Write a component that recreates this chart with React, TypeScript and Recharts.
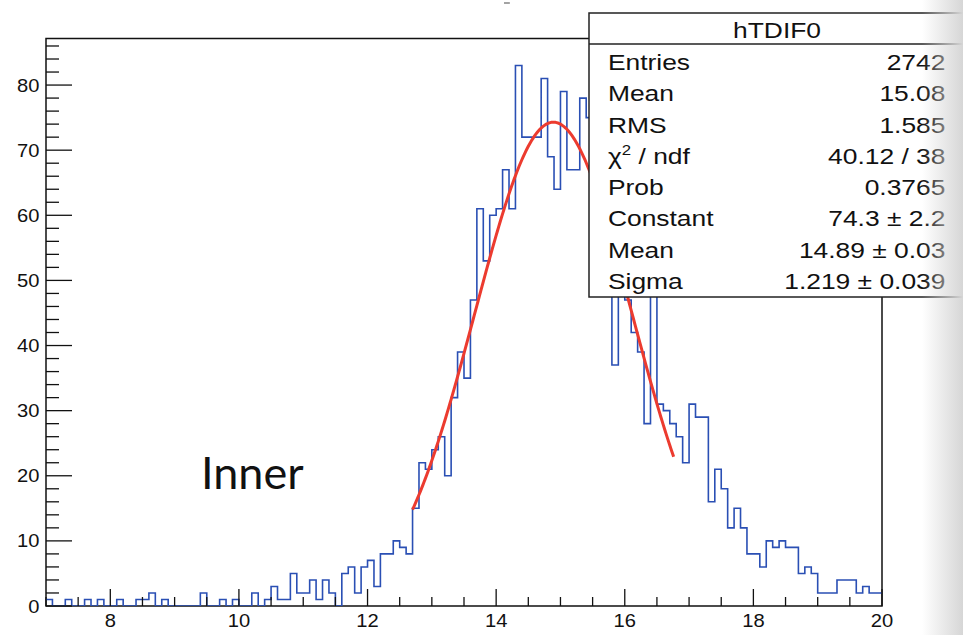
import React from "react";
import { ComposedChart, Line, XAxis, YAxis, ReferenceArea } from "recharts";

const W = 963;
const H = 635;

const X_MIN = 7;
const X_MAX = 20;
const BIN_WIDTH = 0.1;
const Y_MAX = 87.15;

// hTDIF0 bin contents, 0.1 wide, one row per unit starting at 7.0
const binCounts = [
  1, 0, 0, 1, 0, 0, 1, 0, 1, 0,
  0, 1, 0, 0, 1, 1, 2, 0, 1, 0,
  0, 0, 0, 0, 2, 0, 0, 1, 0, 1,
  0, 0, 2, 0, 1, 3, 1, 1, 5, 2,
  2, 4, 1, 4, 2, 0, 5, 6, 2, 6,
  7, 3, 8, 8, 10, 9, 8, 15, 22, 21,
  24, 26, 20, 32, 39, 35, 47, 61, 53, 60,
  61, 67, 61, 83, 72, 72, 72, 81, 69, 64,
  79, 67, 67, 78, 75, 68, 60, 57, 37, 52,
  47, 42, 39, 28, 50, 31, 30, 28, 26, 22,
  31, 29, 29, 16, 21, 18, 12, 15, 12, 8,
  8, 6, 10, 9, 10, 9, 9, 5, 6, 5,
  2, 2, 2, 4, 4, 4, 2, 3, 2, 2,
];

// gaussian fit parameters (as printed in the stats box)
const FIT_CONSTANT = 74.3;
const FIT_MEAN = 14.89;
const FIT_SIGMA = 1.219;
const FIT_RANGE = [12.7, 16.77];

const xLabelTicks = [8, 10, 12, 14, 16, 18, 20];
const yLabelTicks = [0, 10, 20, 30, 40, 50, 60, 70, 80];

const statNames = ["Entries", "Mean", "RMS", "chi2", "Prob", "Constant", "Mean", "Sigma"];
const statValues = [
  "2742",
  "15.08",
  "1.585",
  "40.12 / 38",
  "0.3765",
  "74.3 \u00b1 2.2",
  "14.89 \u00b1 0.03",
  "1.219 \u00b1 0.039",
];

const round2 = (v: number) => Math.round(v * 100) / 100;

const histData = binCounts.map((c, i) => ({ x: round2(X_MIN + i * BIN_WIDTH), count: c }));
histData.push({ x: X_MAX, count: binCounts[binCounts.length - 1] });

const fitData: { x: number; fit: number }[] = [];
for (let x = FIT_RANGE[0]; x <= FIT_RANGE[1] + 1e-9; x += 0.02) {
  const d = (x - FIT_MEAN) / FIT_SIGMA;
  fitData.push({ x: round2(x), fit: FIT_CONSTANT * Math.exp(-0.5 * d * d) });
}

const xTicks: number[] = [];
for (let v = X_MIN; v <= X_MAX; v += 0.5) xTicks.push(v);
const yTicks: number[] = [];
for (let v = 0; v <= 86; v += 2) yTicks.push(v);

const FONT = "'Liberation Sans', Arial, Helvetica, sans-serif";
const STRETCH = 1.12;
const TICK_FONT = 18;

function XTick(props: any) {
  const { x, y, payload } = props;
  const v = payload.value;
  const major = xLabelTicks.includes(v);
  return (
    <g>
      <line x1={x} x2={x} y1={y} y2={y - (major ? 17 : 9)} stroke="#111" strokeWidth={1.3} />
      {major && (
        <text
          transform={`translate(${x} ${y + 21}) scale(${STRETCH} 1)`}
          textAnchor="middle"
          fontFamily={FONT}
          fontSize={TICK_FONT}
          fill="#111"
        >
          {v}
        </text>
      )}
    </g>
  );
}

function YTick(props: any) {
  const { x, y, payload } = props;
  const v = payload.value;
  const major = yLabelTicks.includes(v);
  return (
    <g>
      <line x1={x} x2={x + (major ? 26 : 13)} y1={y} y2={y} stroke="#111" strokeWidth={1.3} />
      {major && (
        <text
          transform={`translate(${x - 6.5} ${y + 6.5}) scale(${STRETCH} 1)`}
          textAnchor="end"
          fontFamily={FONT}
          fontSize={TICK_FONT}
          fill="#111"
        >
          {v}
        </text>
      )}
    </g>
  );
}

function StatsBox() {
  const left = 589;
  const top = 13;
  const sx = 1.2;
  return (
    <g>
      <rect x={left} y={top} width={380} height={284} fill="#fff" stroke="#222" strokeWidth={1.5} />
      <line x1={left} x2={W} y1={44} y2={44} stroke="#222" strokeWidth={1.3} />
      <g transform={`translate(${left} ${top}) scale(${sx} 1)`} fontFamily={FONT} fontSize={22} fill="#111">
        <text x={156.7} y={25.5} textAnchor="middle">
          hTDIF0
        </text>
        {statNames.map((name, i) => {
          const yb = 57 + i * 31.3;
          return (
            <g key={i}>
              {name === "chi2" ? (
                <text x={15.8} y={yb}>
                  <tspan>{"\u03c7"}</tspan>
                  <tspan dy={-9} fontSize={14}>
                    2
                  </tspan>
                  <tspan dy={9}>{" / ndf"}</tspan>
                </text>
              ) : (
                <text x={15.8} y={yb}>
                  {name}
                </text>
              )}
              <text x={297} y={yb} textAnchor="end">
                {statValues[i]}
              </text>
            </g>
          );
        })}
      </g>
    </g>
  );
}

export default function App() {
  return (
    <div
      style={{
        position: "absolute",
        left: 0,
        top: 0,
        width: W,
        height: H,
        overflow: "hidden",
        background: "#fff",
      }}
    >
      <ComposedChart width={W} height={H} margin={{ top: 38.5, right: 81, bottom: 0, left: 0 }}>
        <XAxis
          type="number"
          dataKey="x"
          domain={[X_MIN, X_MAX]}
          ticks={xTicks}
          interval={0}
          height={29}
          axisLine={false}
          tickLine={false}
          tickSize={0}
          tickMargin={0}
          tick={<XTick />}
          allowDataOverflow
        />
        <YAxis
          type="number"
          domain={[0, Y_MAX]}
          ticks={yTicks}
          interval={0}
          width={46}
          axisLine={false}
          tickLine={false}
          tickSize={0}
          tickMargin={0}
          tick={<YTick />}
          allowDataOverflow
        />
        <ReferenceArea
          x1={X_MIN}
          x2={X_MAX}
          y1={0}
          y2={Y_MAX}
          fill="none"
          fillOpacity={0}
          stroke="#111"
          strokeWidth={1.5}
          strokeOpacity={1}
        />
        <Line
          data={histData}
          dataKey="count"
          type="stepAfter"
          stroke="#2a4fb4"
          strokeWidth={1.6}
          dot={false}
          activeDot={false}
          isAnimationActive={false}
        />
        <Line
          data={fitData}
          dataKey="fit"
          type="linear"
          stroke="#ec3b2f"
          strokeWidth={3}
          dot={false}
          activeDot={false}
          isAnimationActive={false}
        />
      </ComposedChart>
      <svg
        width={W}
        height={H}
        style={{ position: "absolute", left: 0, top: 0, pointerEvents: "none" }}
      >
        <line x1={504} x2={510} y1={3} y2={3} stroke="#666" strokeWidth={1.2} />
        <text x={201} y={489} fontFamily="Lato, 'Open Sans', sans-serif" fontSize={45} fill="#111">
          Inner
        </text>
        <StatsBox />
      </svg>
      <div
        style={{
          position: "absolute",
          left: 922,
          top: 0,
          width: 41,
          height: H,
          background: "linear-gradient(to right, rgba(220,220,220,0), rgba(214,214,214,1))",
          pointerEvents: "none",
        }}
      />
    </div>
  );
}
